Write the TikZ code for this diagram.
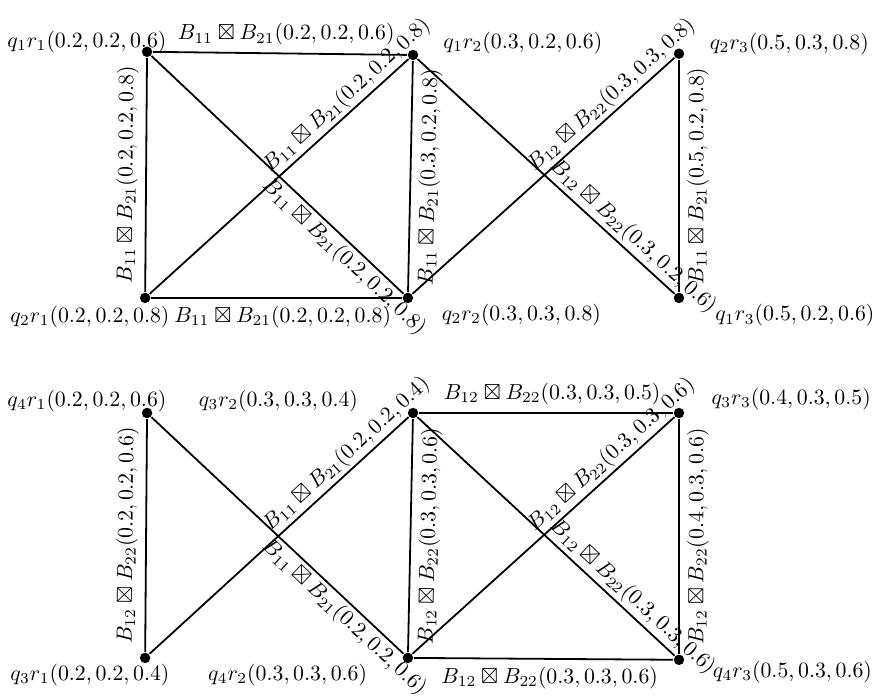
\documentclass[tikz,border=0pt]{standalone}
\usepackage{amssymb}
\begin{document}
\begin{tikzpicture}[thick,every node/.append style={scale=0.97},
    punto/.style={circle,fill=black,inner sep=0pt,minimum size=4.8pt},
    orizz/.style={midway,xshift=0.1cm},
    sopra/.style={pos=0.48,sloped,anchor=south west,inner sep=1.2pt},
    sotto/.style={pos=0.48,sloped,anchor=north west,inner sep=1.2pt}]
        \useasboundingbox (0,0) rectangle (13.78,10.93);
        % Vertici (grafo superiore)
        \node[punto,label={[shift={(-0.97,0.16)}]center:$q_1r_1(0.2,0.2,0.6)$}] (q1r1) at (2.30,10.12) {};
        \node[punto,label={[shift={(1.77,0.19)}]center:$q_1r_2(0.3,0.2,0.6)$}] (q1r2) at (6.46,10.07) {};
        \node[punto,label={[shift={(1.78,0.16)}]center:$q_2r_3(0.5,0.3,0.8)$}] (q2r3) at (10.62,10.09) {};
        \node[punto,label={[shift={(-0.89,-0.31)}]center:$q_2r_1(0.2,0.2,0.8)$}] (q2r1) at (2.27,6.27) {};
        \node[punto,label={[shift={(1.83,-0.27)}]center:$q_2r_2(0.3,0.3,0.8)$}] (q2r2) at (6.38,6.27) {};
        \node[punto,label={[shift={(1.87,-0.28)}]center:$q_1r_3(0.5,0.2,0.6)$}] (q1r3) at (10.62,6.27) {};
        % Lati (grafo superiore)
        \draw (q1r1) -- (q1r2) node[orizz,above] {$B_{11}\boxtimes B_{21}(0.2,0.2,0.6)$};
        \draw (q2r1) -- (q2r2) node[orizz,below] {$B_{11}\boxtimes B_{21}(0.2,0.2,0.8)$};
        \draw (q2r1) -- (q1r1) node[midway,above,sloped] {$B_{11}\boxtimes B_{21}(0.2,0.2,0.8)$};
        \draw (q2r2) -- (q1r2) node[midway,below,sloped] {$B_{11}\boxtimes B_{21}(0.3,0.2,0.8)$};
        \draw (q1r3) -- (q2r3) node[midway,below,sloped] {$B_{11}\boxtimes B_{21}(0.5,0.2,0.8)$};
        \draw (q1r1) -- (q2r2) node[sotto] {$B_{11}\boxtimes B_{21}(0.2,0.2,0.8)$};
        \draw (q2r1) -- (q1r2) node[sopra] {$B_{11}\boxtimes B_{21}(0.2,0.2,0.8)$};
        \draw (q2r2) -- (q2r3) node[sopra] {$B_{12}\boxtimes B_{22}(0.3,0.3,0.8)$};
        \draw (q1r2) -- (q1r3) node[sopra] {$B_{12}\boxtimes B_{22}(0.3,0.2,0.6)$};
        % Vertici (grafo inferiore)
        \node[punto,label={[shift={(-0.97,0.20)}]center:$q_4r_1(0.2,0.2,0.6)$}] (q4r1) at (2.30,4.47) {};
        \node[punto,label={[shift={(-2.17,0.20)}]center:$q_3r_2(0.3,0.3,0.4)$}] (q3r2) at (6.46,4.47) {};
        \node[punto,label={[shift={(1.81,0.23)}]center:$q_3r_3(0.4,0.3,0.5)$}] (q3r3) at (10.62,4.47) {};
        \node[punto,label={[shift={(-0.89,-0.27)}]center:$q_3r_1(0.2,0.2,0.4)$}] (q3r1) at (2.27,0.64) {};
        \node[punto,label={[shift={(-1.94,-0.27)}]center:$q_4r_2(0.3,0.3,0.6)$}] (q4r2) at (6.38,0.64) {};
        \node[punto,label={[shift={(1.83,-0.20)}]center:$q_4r_3(0.5,0.3,0.6)$}] (q4r3) at (10.62,0.61) {};
        % Lati (grafo inferiore)
        \draw (q3r2) -- (q3r3) node[orizz,above] {$B_{12}\boxtimes B_{22}(0.3,0.3,0.5)$};
        \draw (q4r2) -- (q4r3) node[orizz,below] {$B_{12}\boxtimes B_{22}(0.3,0.3,0.6)$};
        \draw (q3r1) -- (q4r1) node[midway,above,sloped] {$B_{12}\boxtimes B_{22}(0.2,0.2,0.6)$};
        \draw (q4r2) -- (q3r2) node[midway,below,sloped] {$B_{12}\boxtimes B_{22}(0.3,0.3,0.6)$};
        \draw (q4r3) -- (q3r3) node[midway,below,sloped] {$B_{12}\boxtimes B_{22}(0.4,0.3,0.6)$};
        \draw (q4r1) -- (q4r2) node[sotto] {$B_{11}\boxtimes B_{21}(0.2,0.2,0.6)$};
        \draw (q3r1) -- (q3r2) node[sopra] {$B_{11}\boxtimes B_{21}(0.2,0.2,0.4)$};
        \draw (q4r2) -- (q3r3) node[sopra] {$B_{12}\boxtimes B_{22}(0.3,0.3,0.6)$};
        \draw (q3r2) -- (q4r3) node[sopra] {$B_{12}\boxtimes B_{22}(0.3,0.3,0.6)$};
    \end{tikzpicture}
\end{document}
